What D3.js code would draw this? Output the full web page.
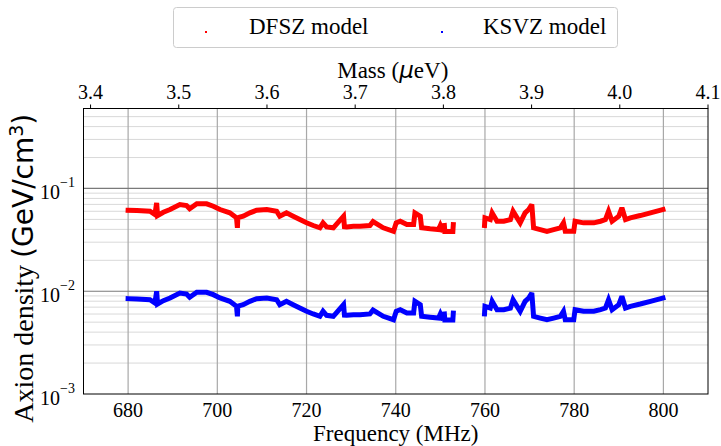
<!DOCTYPE html>
<html>
<head>
<meta charset="utf-8">
<script src="https://cdn.jsdelivr.net/npm/d3@7"></script>
<style>
  html, body { margin: 0; padding: 0; background: #fff; }
  svg { display: block; }
</style>
</head>
<body>
<div id="chart"></div>
<script>
// Frequency grid (MHz); null entries in the value arrays mark gaps in the scan
const freq = [680.0, 682.0, 684.9, 686.0, 686.4, 686.6, 687.9, 689.4, 691.6, 693.1, 693.8, 695.4, 697.6, 699.1,
  700.6, 702.8, 704.3, 704.5, 704.6, 705.8, 707.3, 708.8, 711.1, 713.3, 714.0, 715.5, 717.0, 718.5,
  720.0, 721.5, 723.0, 723.7, 724.5, 726.0, 728.3, 728.5, 729.0, 730.5, 732.0, 734.2, 734.9, 737.2, 739.5,
  740.1, 741.0, 742.5, 744.0, 744.3, 745.5, 745.8, 747.7, 749.6, 750.0, 750.4, 750.6,
  750.9, 751.0, 752.8, 752.9, 756.0,
  759.9, 760.0, 761.2, 761.6, 762.7, 764.2, 765.7, 766.3, 767.2, 767.9, 769.0, 769.8, 770.5, 770.9,
  772.4, 773.9, 775.4, 776.9, 777.6, 778.0, 779.9, 780.2, 782.1, 784.4, 785.9, 787.0, 787.7, 788.5,
  790.0, 790.7, 791.5, 792.6, 794.8, 797.1, 799.9];

// Axion density limit, DFSZ model (GeV/cm^3)
const dfsz = [0.0614, 0.0610, 0.0600, 0.0557, 0.0725, 0.0545, 0.0587, 0.0624, 0.0698, 0.0682, 0.0634, 0.0709, 0.0709, 0.0672,
  0.0624, 0.0579, 0.0518, 0.0414, 0.0520, 0.0537, 0.0579, 0.0614, 0.0624, 0.0600, 0.0537, 0.0579, 0.0537, 0.0498,
  0.0463, 0.0436, 0.0414, 0.0463, 0.0423, 0.0414, 0.0537, 0.0425, 0.0423, 0.0429, 0.0429, 0.0436, 0.0476, 0.0414, 0.0383,
  0.0463, 0.0480, 0.0445, 0.0445, 0.0579, 0.0537, 0.0414, 0.0405, 0.0398, 0.0436, 0.0398, null,
  0.0436, 0.0381, 0.0381, 0.0445, null,
  0.0436, 0.0518, 0.0498, 0.0579, 0.0480, 0.0480, 0.0498, 0.0600, 0.0518, 0.0463, 0.0579, 0.0624, 0.0698, 0.0414,
  0.0398, 0.0383, 0.0398, 0.0414, 0.0463, 0.0383, 0.0383, 0.0480, 0.0463, 0.0463, 0.0480, 0.0498, 0.0600, 0.0480,
  0.0537, 0.0648, 0.0498, 0.0518, 0.0545, 0.0579, 0.0624];

// Axion density limit, KSVZ model (GeV/cm^3)
const ksvz = [0.00846, 0.00840, 0.00826, 0.00767, 0.00999, 0.00751, 0.00809, 0.00860, 0.00961, 0.00939, 0.00873, 0.00977, 0.00977, 0.00926,
  0.00860, 0.00798, 0.00713, 0.00570, 0.00716, 0.00740, 0.00798, 0.00846, 0.00860, 0.00826, 0.00740, 0.00798, 0.00740, 0.00686,
  0.00638, 0.00601, 0.00570, 0.00638, 0.00583, 0.00570, 0.00740, 0.00585, 0.00583, 0.00591, 0.00591, 0.00601, 0.00656, 0.00570, 0.00528,
  0.00638, 0.00661, 0.00613, 0.00613, 0.00798, 0.00740, 0.00570, 0.00558, 0.00548, 0.00601, 0.00548, null,
  0.00601, 0.00525, 0.00525, 0.00613, null,
  0.00601, 0.00713, 0.00686, 0.00798, 0.00661, 0.00661, 0.00686, 0.00826, 0.00713, 0.00638, 0.00798, 0.00860, 0.00961, 0.00570,
  0.00548, 0.00528, 0.00548, 0.00570, 0.00638, 0.00528, 0.00528, 0.00661, 0.00638, 0.00638, 0.00661, 0.00686, 0.00826, 0.00661,
  0.00740, 0.00893, 0.00686, 0.00713, 0.00751, 0.00798, 0.00860];

const freqTicks = [680, 700, 720, 740, 760, 780, 800];
const massTicks = [3.4, 3.5, 3.6, 3.7, 3.8, 3.9, 4.0, 4.1];
const densityTicks = [1e-3, 1e-2, 1e-1];
const densityExponents = [-3, -2, -1];

const series = [
  { name: "DFSZ model", values: dfsz, color: "#ff0000" },
  { name: "KSVZ model", values: ksvz, color: "#0000ff" }
];

const W = 721, H = 446;
const plotL = 83.5, plotR = 708, plotT = 108.5, plotB = 394;
const SERIF = '"Liberation Serif"';
const SANS = '"DejaVu Sans"';

const svg = d3.select("#chart").append("svg").attr("width", W).attr("height", H);

const x = d3.scaleLinear().domain([670, 810]).range([plotL, plotR]);
const xMass = d3.scaleLinear().domain([3.392, 4.1]).range([plotL, plotR]);
const y = d3.scaleLog().domain([1e-3, 0.6]).range([plotB, plotT]);

// Minor horizontal grid
const minorY = [];
for (let e = -3; e <= -1; e++) for (let m = 2; m <= 9; m++) { const v = m * Math.pow(10, e); if (v < 0.6) minorY.push(v); }
svg.append("g").selectAll("line").data(minorY).join("line")
  .attr("x1", plotL).attr("x2", plotR)
  .attr("y1", d => y(d)).attr("y2", d => y(d))
  .attr("stroke", "#d9d9d9").attr("stroke-width", 1);

// Major grid
svg.append("g").selectAll("line").data(freqTicks).join("line")
  .attr("x1", d => x(d)).attr("x2", d => x(d))
  .attr("y1", plotT).attr("y2", plotB)
  .attr("stroke", "#a8a8a8").attr("stroke-width", 1.2);
svg.append("g").selectAll("line").data(densityTicks.slice(1)).join("line")
  .attr("x1", plotL).attr("x2", plotR)
  .attr("y1", d => y(d)).attr("y2", d => y(d))
  .attr("stroke", "#7a7a7a").attr("stroke-width", 1.2);

// Traces
series.forEach(s => {
  const idx = d3.range(freq.length);
  svg.append("path")
    .attr("d", d3.line()
      .defined(i => s.values[i] !== null)
      .x(i => x(freq[i]))
      .y(i => y(s.values[i]))(idx))
    .attr("fill", "none")
    .attr("stroke", s.color)
    .attr("stroke-width", 5)
    .attr("stroke-linejoin", "miter")
    .attr("stroke-miterlimit", 3)
    .attr("stroke-linecap", "square");
});

// Frame
svg.append("rect").attr("x", plotL).attr("y", plotT)
  .attr("width", plotR - plotL).attr("height", plotB - plotT)
  .attr("fill", "none").attr("stroke", "#000").attr("stroke-width", 1);

// Bottom axis labels
svg.append("g").selectAll("text").data(freqTicks).join("text")
  .style("font-family", SERIF).style("font-size", "20px")
  .attr("x", d => x(d)).attr("y", 417)
  .attr("text-anchor", "middle")
  .text(d => d);
svg.append("text").style("font-family", SERIF).style("font-size", "23px")
  .attr("x", (plotL + plotR) / 2).attr("y", 441)
  .attr("text-anchor", "middle")
  .text("Frequency (MHz)");

// Top (mass) axis
const topAxis = svg.append("g");
topAxis.selectAll("line").data(massTicks).join("line")
  .attr("x1", d => xMass(d)).attr("x2", d => xMass(d))
  .attr("y1", plotT).attr("y2", plotT - 4)
  .attr("stroke", "#000").attr("stroke-width", 1);
topAxis.selectAll("text").data(massTicks).join("text")
  .style("font-family", SERIF).style("font-size", "20px")
  .attr("x", d => xMass(d)).attr("y", 99)
  .attr("text-anchor", "middle")
  .text(d => d.toFixed(1));
const massTitle = svg.append("text").style("font-family", SERIF).style("font-size", "23px")
  .attr("x", (plotL + plotR) / 2 - 3).attr("y", 78)
  .attr("text-anchor", "middle");
massTitle.append("tspan").text("Mass (");
massTitle.append("tspan").style("font-family", SANS).style("font-style", "italic").text("μ");
massTitle.append("tspan").text("eV)");

// Left axis labels: 10^e
const yl = svg.append("g").selectAll("text").data(densityTicks).join("text")
  .style("font-family", SERIF).style("font-size", "20px")
  .attr("x", 40).attr("y", d => y(d) + 11);
yl.append("tspan").text("10");
yl.append("tspan").attr("dy", -12).style("font-size", "14px")
  .text((d, i) => "\u2212" + Math.abs(densityExponents[i]));

const yTitle = svg.append("text")
  .attr("transform", `translate(33, ${(plotT + plotB) / 2 + 17}) rotate(-90)`)
  .attr("text-anchor", "middle").style("font-size", "28px");
yTitle.append("tspan").style("font-family", SERIF).text("Axion density ");
yTitle.append("tspan").style("font-family", SANS).text("(GeV/cm");
yTitle.append("tspan").style("font-family", SANS).style("font-size", "19px").attr("dy", -10).text("3");
yTitle.append("tspan").style("font-family", SANS).attr("dy", 10).text(")");

// Legend
const lg = svg.append("g");
lg.append("rect").attr("x", 173.5).attr("y", 7.5).attr("width", 444).attr("height", 40)
  .attr("rx", 3).attr("fill", "#fff").attr("stroke", "#cccccc").attr("stroke-width", 1);
const legendX = [205, 441];
const textX = [249, 483];
series.forEach((s, i) => {
  lg.append("rect").attr("x", legendX[i]).attr("y", 31).attr("width", 2).attr("height", 2).attr("fill", s.color);
  lg.append("text").style("font-family", SERIF).style("font-size", "23px")
    .attr("x", textX[i]).attr("y", 33.5)
    .text(s.name);
});
</script>
</body>
</html>
